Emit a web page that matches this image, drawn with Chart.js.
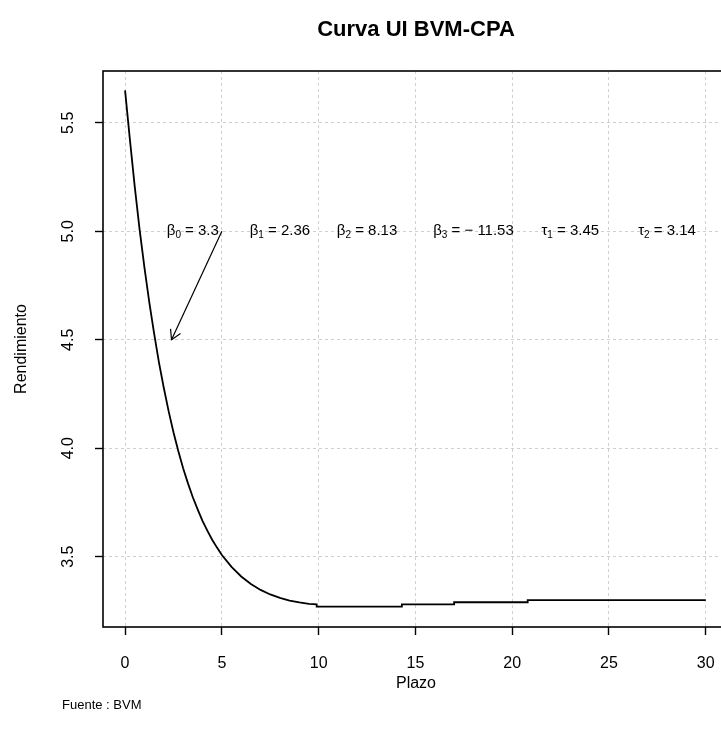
<!DOCTYPE html>
<html><head><meta charset="utf-8">
<script src="https://cdn.jsdelivr.net/npm/chart.js@4"></script>
<style>html,body{margin:0;padding:0;overflow:hidden;background:#fff}canvas{display:block}</style>
</head><body>
<canvas id="c" width="740" height="740"></canvas>
<script>
// ---- data ----
const plazo = [0, 0.25, 0.5, 0.75, 1, 1.25, 1.5, 1.75, 2, 2.25, 2.5, 2.75, 3, 3.25, 3.5, 3.75, 4, 4.25, 4.5, 4.75, 5, 5.5, 6, 6.5, 7, 7.5, 8, 8.5, 9, 9.5, 9.9, 9.9, 14.3, 14.3, 17, 17, 20.8, 20.8, 30];
const rendimiento = [5.65, 5.423, 5.206, 5.009, 4.834, 4.674, 4.530, 4.396, 4.279, 4.171, 4.074, 3.987, 3.908, 3.838, 3.774, 3.718, 3.665, 3.620, 3.578, 3.542, 3.508, 3.453, 3.409, 3.374, 3.347, 3.326, 3.310, 3.298, 3.289, 3.283, 3.28, 3.27, 3.27, 3.28, 3.28, 3.29, 3.29, 3.30, 3.30];
const xTicks = [0, 5, 10, 15, 20, 25, 30];
const yTicks = [3.5, 4.0, 4.5, 5.0, 5.5];
const yTickLabels = ["3.5", "4.0", "4.5", "5.0", "5.5"];
const paramSymbols = ["β", "β", "β", "β", "τ", "τ"];
const paramSubs = ["0", "1", "2", "3", "1", "2"];
const paramValues = ["3.3", "2.36", "8.13", "− 11.53", "3.45", "3.14"];
const paramX = [3.5, 8, 12.5, 18, 23, 28];
const paramY = 5.0;
const arrowFrom = [5, 5];
const arrowTo = [2.4, 4.5];
const titleText = "Curva UI BVM-CPA";
const xTitle = "Plazo";
const yTitle = "Rendimiento";
const sourceText = "Fuente : BVM";

const FONT = "'Liberation Sans', Arial, sans-serif";

const decor = {
  id: 'decor',
  afterDraw(chart) {
    const ctx = chart.ctx, a = chart.chartArea;
    const xs = chart.scales.x, ys = chart.scales.y;
    ctx.save();
    // box
    ctx.strokeStyle = '#000'; ctx.lineWidth = 1.6; ctx.setLineDash([]);
    ctx.strokeRect(a.left, a.top, a.right - a.left, a.bottom - a.top);
    ctx.fillStyle = '#000';
    // y tick labels (rotated as in R)
    ctx.font = '16px ' + FONT; ctx.textAlign = 'center'; ctx.textBaseline = 'middle';
    yTicks.forEach((v, i) => {
      const py = ys.getPixelForValue(v);
      ctx.save(); ctx.translate(69, py); ctx.rotate(-Math.PI / 2);
      ctx.fillText(yTickLabels[i], 0, 0); ctx.restore();
    });
    // y title
    ctx.save(); ctx.translate(22, (a.top + a.bottom) / 2); ctx.rotate(-Math.PI / 2);
    ctx.fillText(yTitle, 0, 0); ctx.restore();
    // x title
    ctx.fillText(xTitle, (a.left + a.right) / 2, 684);
    // title
    ctx.font = 'bold 22px ' + FONT;
    ctx.fillText(titleText, (a.left + a.right) / 2, 30);
    // source
    ctx.font = '13px ' + FONT; ctx.textAlign = 'left';
    ctx.fillText(sourceText, 62, 705);
    // parameter labels
    const py = ys.getPixelForValue(paramY);
    paramSymbols.forEach((s, i) => {
      const big = '15px ' + FONT, small = '10px ' + FONT;
      const rest = ' = ' + paramValues[i];
      ctx.font = big; const w1 = ctx.measureText(s).width; const w3 = ctx.measureText(rest).width;
      ctx.font = small; const w2 = ctx.measureText(paramSubs[i]).width;
      let x = xs.getPixelForValue(paramX[i]) - (w1 + w2 + w3) / 2;
      ctx.textAlign = 'left'; ctx.textBaseline = 'middle';
      ctx.font = big; ctx.fillText(s, x, py); x += w1;
      ctx.font = small; ctx.fillText(paramSubs[i], x, py + 4); x += w2;
      ctx.font = big; ctx.fillText(rest, x, py);
    });
    // arrow
    const x0 = xs.getPixelForValue(arrowFrom[0]), y0 = ys.getPixelForValue(arrowFrom[1]);
    const x1 = xs.getPixelForValue(arrowTo[0]), y1 = ys.getPixelForValue(arrowTo[1]);
    ctx.strokeStyle = '#000'; ctx.lineWidth = 1.2;
    ctx.beginPath(); ctx.moveTo(x0, y0); ctx.lineTo(x1, y1); ctx.stroke();
    const ang = Math.atan2(y0 - y1, x0 - x1), L = 11, sp = Math.PI / 6;
    ctx.beginPath();
    ctx.moveTo(x1 + L * Math.cos(ang + sp), y1 + L * Math.sin(ang + sp));
    ctx.lineTo(x1, y1);
    ctx.lineTo(x1 + L * Math.cos(ang - sp), y1 + L * Math.sin(ang - sp));
    ctx.stroke();
    ctx.restore();
  }
};

new Chart(document.getElementById('c'), {
  type: 'line',
  data: {
    datasets: [{
      data: plazo.map((x, i) => ({ x: x, y: rendimiento[i] })),
      borderColor: '#000', borderWidth: 1.8, pointRadius: 0, tension: 0, fill: false
    }]
  },
  options: {
    responsive: false, animation: false,
    layout: { padding: { top: 71, right: 11, left: 0, bottom: 0 } },
    plugins: { legend: { display: false }, tooltip: { enabled: false }, title: { display: false } },
    scales: {
      x: {
        type: 'linear', min: -1.14, max: 31.2,
        afterBuildTicks: s => { s.ticks = xTicks.map(v => ({ value: v })); },
        afterFit: s => { s.height = 113; },
        ticks: { font: { family: FONT, size: 16 }, color: '#000', padding: 19, maxRotation: 0, autoSkip: false },
        grid: { color: '#cfcfcf', lineWidth: 1, tickColor: '#000', tickLength: 8, tickWidth: 1.4 },
        border: { display: false, dash: [3, 3] }
      },
      y: {
        type: 'linear', min: 3.176, max: 5.739,
        afterBuildTicks: s => { s.ticks = yTicks.map(v => ({ value: v })); },
        afterFit: s => { s.width = 103; },
        ticks: { display: false },
        grid: { color: '#cfcfcf', lineWidth: 1, tickColor: '#000', tickLength: 8, tickWidth: 1.4 },
        border: { display: false, dash: [3, 3] }
      }
    }
  },
  plugins: [decor]
});
</script>
</body></html>
